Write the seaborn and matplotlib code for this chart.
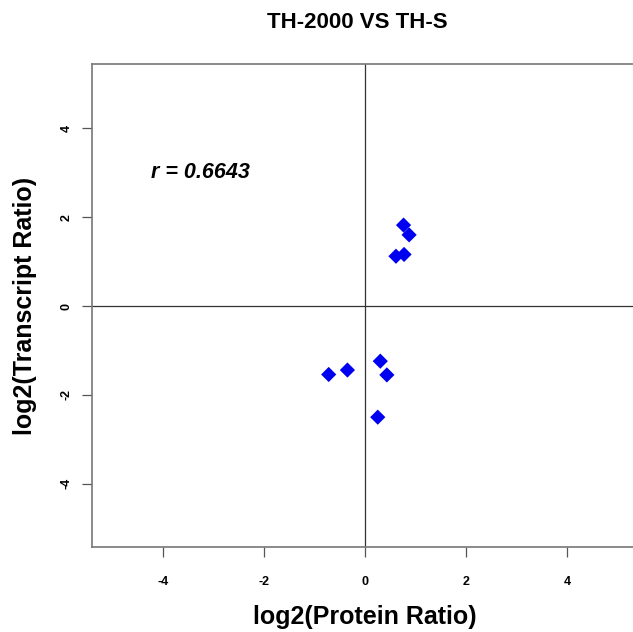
import seaborn as sns
import matplotlib.pyplot as plt
import pandas as pd

sns.set_theme(style="white")
plt.rcParams['font.family'] = ['Liberation Sans', 'DejaVu Sans']
plt.rcParams['text.color'] = 'black'
plt.rcParams['axes.labelcolor'] = 'black'
plt.rcParams['xtick.color'] = 'black'
plt.rcParams['ytick.color'] = 'black'

protein_ratio = [0.76, 0.87, 0.61, 0.77, 0.30, 0.43, 0.25, -0.72, -0.35]
transcript_ratio = [1.82, 1.60, 1.12, 1.16, -1.24, -1.55, -2.50, -1.54, -1.44]
ticks = [-4, -2, 0, 2, 4]
r_value = 0.6643

df = pd.DataFrame({'protein': protein_ratio, 'transcript': transcript_ratio})

fig = plt.figure(figsize=(6.33, 6.32), dpi=100)
ax = fig.add_axes([0.1453, 0.1345, 0.863, 0.764])

ax.axhline(0, color='#333333', linewidth=0.9, zorder=1)
ax.axvline(0, color='#333333', linewidth=0.9, zorder=1)

sns.scatterplot(data=df, x='protein', y='transcript', marker='D', color='#0000f0',
                s=60, edgecolor='none', ax=ax, zorder=3)

ax.set_xlim(-5.4, 5.4)
ax.set_ylim(-5.42, 5.44)
ax.set_xticks(ticks)
ax.set_yticks(ticks)
ax.set_xticklabels([str(t) for t in ticks], fontweight='bold', fontsize=9)
ax.set_yticklabels([str(t) for t in ticks], fontweight='bold', fontsize=9,
                   rotation=90, va='center')
ax.tick_params(axis='both', direction='out', length=7, width=0.9, color='#555555',
               bottom=True, left=True)
ax.tick_params(axis='x', pad=14)
ax.tick_params(axis='y', pad=7)

for side in ['left', 'bottom', 'top']:
    ax.spines[side].set_color('#777777')
    ax.spines[side].set_linewidth(1.2)
ax.spines['right'].set_visible(False)

ax.text(-3.25, 3.0, 'r = {:.4f}'.format(r_value), fontsize=15.5, fontweight='bold',
        fontstyle='italic', ha='center', va='center')

ax.set_xlabel('log2(Protein Ratio)', fontsize=18, fontweight='bold', labelpad=12)
ax.set_ylabel('log2(Transcript Ratio)', fontsize=18, fontweight='bold', labelpad=17)
fig.text(0.565, 0.965, 'TH-2000 VS TH-S', fontsize=16, fontweight='bold',
         ha='center', va='center')

fig.savefig('out.png', dpi=100)
